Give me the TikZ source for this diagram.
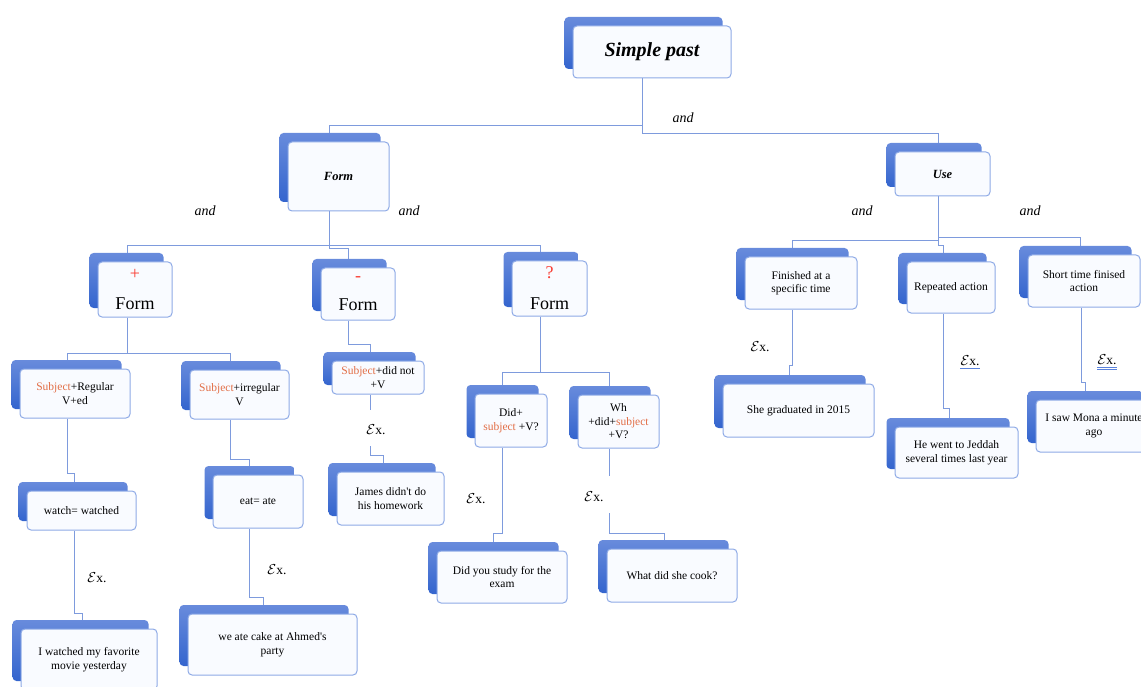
\documentclass[tikz,border=0pt]{standalone}
\usepackage{fontspec}
\setmainfont{Liberation Serif}[Ligatures=TeXOff]
\usetikzlibrary{shadows,backgrounds,calc}
\definecolor{boxline}{RGB}{142,170,230}
\definecolor{boxfill}{RGB}{249,251,255}
\definecolor{shtop}{RGB}{104,139,220}
\definecolor{shbot}{RGB}{52,101,206}
\definecolor{conncol}{RGB}{126,155,221}
\definecolor{subj}{RGB}{226,110,70}
\definecolor{sign}{RGB}{250,60,50}
\definecolor{ulblue}{RGB}{90,130,220}
\newcommand{\Subj}[1]{\textcolor{subj}{#1}}
\newcommand{\Exs}{$\mathcal{E}$x.}
\begin{document}
\begin{tikzpicture}[x=1pt,y=-1pt,
  box/.style={draw=boxline, line width=1pt, rounded corners=4pt, fill=boxfill,
    align=center, inner sep=0pt,
    font=\fontsize{11.5}{13.5}\selectfont,
    general shadow={shadow xshift=-8.5pt, shadow yshift=9pt, draw=none,
      top color=shtop, bottom color=shbot}},
  conn/.style={draw=conncol, line width=0.9pt},
  andlbl/.style={font=\fontsize{14}{16}\selectfont\itshape, inner sep=0pt},
  exlbl/.style={font=\fontsize{13.5}{15}\selectfont, inner sep=0pt},
  ul/.style={draw=ulblue, line width=0.8pt}
]
\useasboundingbox (0,0) rectangle (1141,687);

% nodes
\node[box, minimum width=158pt, minimum height=52pt, font=\fontsize{20}{24}\selectfont\bfseries\itshape] (sp) at (652,52) {Simple past};
\node[box, minimum width=101pt, minimum height=69pt, font=\fontsize{12.5}{15}\selectfont\bfseries\itshape] (form) at (338.5,176.5) {Form};
\node[box, minimum width=95pt, minimum height=44pt, font=\fontsize{12.5}{15}\selectfont\bfseries\itshape] (use) at (942.5,174) {Use};

\node[box, minimum width=74pt, minimum height=55pt, font=\fontsize{18}{30}\selectfont] (plus) at (135,289.5) {\textcolor{sign}{+}\\Form};
\node[box, minimum width=74pt, minimum height=52pt, font=\fontsize{18}{29}\selectfont] (minus) at (358,294) {\textcolor{sign}{-}\\Form};
\node[box, minimum width=75pt, minimum height=55pt, font=\fontsize{18}{31}\selectfont] (qform) at (549.5,288.5) {\textcolor{sign}{?}\\Form};

\node[box, minimum width=110pt, minimum height=49pt] (sreg) at (75,393.5) {\Subj{Subject}+Regular\\V+ed};
\node[box, minimum width=99pt, minimum height=49pt] (sirr) at (239.5,394.5) {\Subj{Subject}+irregular\\V};
\node[box, minimum width=92pt, minimum height=33pt] (sdn) at (378,377.5) {\Subj{Subject}+did not\\+V};
\node[box, minimum width=72pt, minimum height=53pt] (did) at (511,420.5) {Did+\\\Subj{subject} +V?};
\node[box, minimum width=81pt, minimum height=53pt] (wh) at (618.5,421.5) {Wh\\+did+\Subj{subject}\\+V?};

\node[box, minimum width=109pt, minimum height=39pt] (watch) at (81.5,510.5) {watch= watched};
\node[box, minimum width=90pt, minimum height=53pt] (eat) at (258,501.5) {eat= ate};
\node[box, minimum width=136pt, minimum height=61pt] (iwatch) at (89,659.5) {I watched my favorite\\movie yesterday};
\node[box, minimum width=169pt, minimum height=61pt] (weate) at (272.5,644.5) {we ate cake at Ahmed's\\party};
\node[box, minimum width=107pt, minimum height=53pt] (james) at (390.5,498.5) {James didn't do\\his homework};
\node[box, minimum width=130pt, minimum height=52pt] (study) at (502,577) {Did you study for the\\exam};
\node[box, minimum width=130pt, minimum height=53pt] (cook) at (672,575.5) {What did she cook?};

\node[box, minimum width=112pt, minimum height=52pt] (fin) at (801,283) {Finished at a\\specific time};
\node[box, minimum width=88pt, minimum height=51pt] (rep) at (951,287.5) {Repeated action};
\node[box, minimum width=112pt, minimum height=52pt] (short) at (1084,281) {Short time finised\\action};
\node[box, minimum width=151pt, minimum height=53pt] (grad) at (798.5,410.5) {She graduated in 2015};
\node[box, minimum width=123pt, minimum height=51pt] (went) at (956.5,452.5) {He went to Jeddah\\several times last year};
\node[box, minimum width=116pt, minimum height=52pt] (mona) at (1094,426) {I saw Mona a minute\\ago};

% labels
\node[andlbl] (and0) at (683,118) {and};
\node[andlbl] (and1) at (205,211) {and};
\node[andlbl] (and2) at (409,211) {and};
\node[andlbl] (and3) at (862,211) {and};
\node[andlbl] (and4) at (1030,211) {and};

\node[exlbl] (ex1) at (97,578) {\Exs};
\node[exlbl] (ex2) at (277,570) {\Exs};
\node[exlbl] (ex3) at (376,430) {\Exs};
\node[exlbl] (ex4) at (476,499) {\Exs};
\node[exlbl] (ex5) at (594,497) {\Exs};
\node[exlbl] (ex6) at (760,347) {\Exs};
\node[exlbl] (ex7) at (970,361) {\Exs};
\node[exlbl] (ex8) at (1107,360) {\Exs};
\draw[ul] ([yshift=-2pt]ex7.south west) -- ([yshift=-2pt]ex7.south east);
\draw[ul] ([yshift=-2pt]ex8.south west) -- ([yshift=-2pt]ex8.south east);
\draw[ul] ([yshift=-4.5pt]ex8.south west) -- ([yshift=-4.5pt]ex8.south east);

\coordinate (g3a) at (370,410);
\coordinate (g3b) at (370,446);
\coordinate (g5a) at (609,476);
\coordinate (g5b) at (609,513);

% connectors
\begin{pgfonlayer}{background}
\draw[conn] ([xshift=-10pt]sp.south) -- ++(0,47) -| ([xshift=-9.5pt]form.north);
\draw[conn] ([xshift=-10pt]sp.south) -- ++(0,55) -| ([xshift=-4.5pt]use.north);

\draw[conn] ([xshift=-9.5pt]form.south) -- ++(0,34) -| ([xshift=-8pt]plus.north);
\draw[conn] ([xshift=-9.5pt]form.south) -- ++(0,37) -| ([xshift=-10pt]minus.north);
\draw[conn] ([xshift=-9.5pt]form.south) -- ++(0,34) -| ([xshift=-9.5pt]qform.north);

\draw[conn] ([xshift=-8pt]plus.south) -- ++(0,36) -| ([xshift=-8pt]sreg.north);
\draw[conn] ([xshift=-8pt]plus.south) -- ++(0,36) -| ([xshift=-9.5pt]sirr.north);
\draw[conn] ([xshift=-10pt]minus.south) -- ++(0,24) -| ([xshift=-8pt]sdn.north);
\draw[conn] ([xshift=-9.5pt]qform.south) -- ++(0,56) -| ([xshift=-9pt]did.north);
\draw[conn] ([xshift=-9.5pt]qform.south) -- ++(0,56) -| ([xshift=-9.5pt]wh.north);

\draw[conn] ([xshift=-8pt]sreg.south) -- ++(0,55) -| ([xshift=-7.5pt]watch.north);
\draw[conn] ([xshift=-9.5pt]sirr.south) -- ++(0,40) -| ([xshift=-9pt]eat.north);
\draw[conn] ([xshift=-7.5pt]watch.south) -- ++(0,83) -| ([xshift=-7pt]iwatch.north);
\draw[conn] ([xshift=-9pt]eat.south) -- ++(0,69) -| ([xshift=-9.5pt]weate.north);
\draw[conn] ([xshift=-8pt]sdn.south) -- (g3a);
\draw[conn] (g3b) -- ++(0,9) -| ([xshift=-7.5pt]james.north);
\draw[conn] ([xshift=-9pt]did.south) -- ++(0,86) -| ([xshift=-9pt]study.north);
\draw[conn] ([xshift=-9.5pt]wh.south) -- (g5a);
\draw[conn] (g5b) -- ++(0,20) -| ([xshift=-8pt]cook.north);

\draw[conn] ([xshift=-4.5pt]use.south) -- ++(0,44) -| ([xshift=-9pt]fin.north);
\draw[conn] ([xshift=-4.5pt]use.south) -- ++(0,49) -| ([xshift=-8pt]rep.north);
\draw[conn] ([xshift=-4.5pt]use.south) -- ++(0,41) -| ([xshift=-4pt]short.north);
\draw[conn] ([xshift=-9pt]fin.south) -- ++(0,56) -| ([xshift=-9.5pt]grad.north);
\draw[conn] ([xshift=-8pt]rep.south) -- ++(0,95) -| ([xshift=-7.5pt]went.north);
\draw[conn] ([xshift=-3pt]short.south) -- ++(0,75) -| ([xshift=-9pt]mona.north);
\end{pgfonlayer}
\end{tikzpicture}
\end{document}
